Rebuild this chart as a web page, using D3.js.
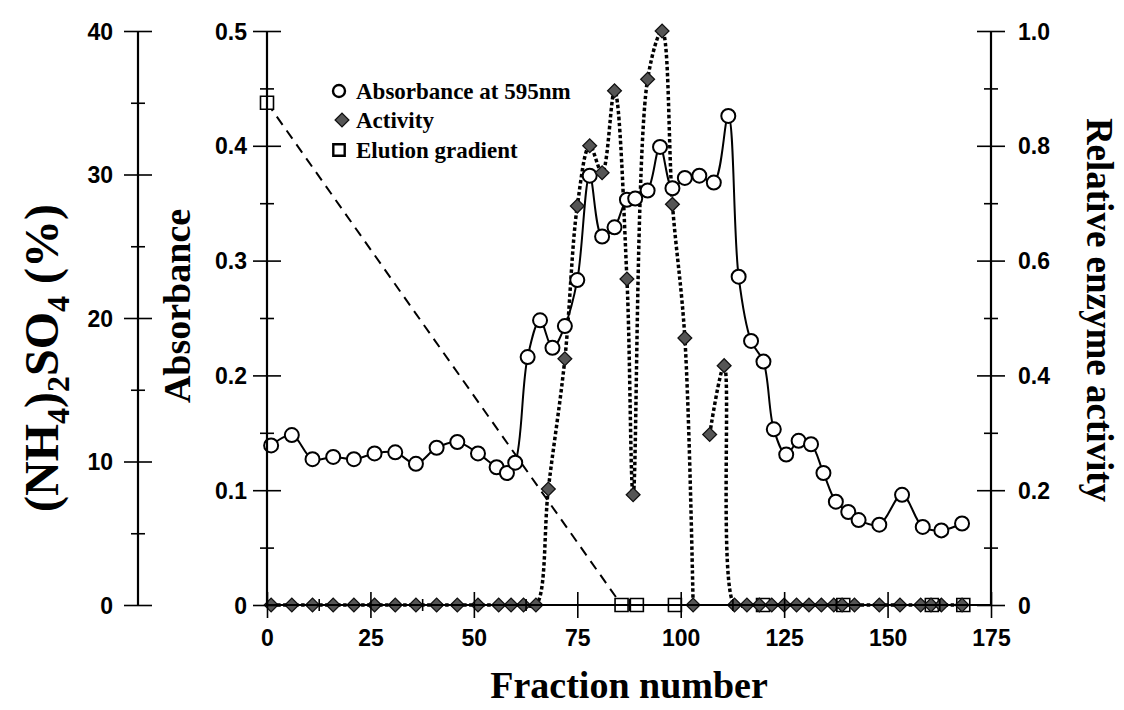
<!DOCTYPE html>
<html>
<head>
<meta charset="utf-8">
<script src="https://cdn.jsdelivr.net/npm/d3@7"></script>
<style>
  html, body { margin: 0; padding: 0; background: #fff; }
  svg { display: block; }
</style>
</head>
<body>
<svg id="chart" width="1124" height="710"></svg>
<script>
// Absorbance at 595 nm per fraction
const absFraction = [1, 6, 11, 16, 21, 26, 31, 36, 41, 46, 51, 55.5, 58, 60, 63, 66, 69, 72, 75, 78, 81, 84, 87, 89, 92, 95, 98, 101, 104.5, 108, 111.5, 114, 117, 120, 122.5, 125.5, 128.5, 131.5, 134.5, 137.5, 140.5, 143, 148, 153.5, 158.5, 163, 168];
const absValue = [0.139, 0.148, 0.127, 0.129, 0.127, 0.132, 0.133, 0.123, 0.137, 0.142, 0.132, 0.120, 0.115, 0.124, 0.216, 0.248, 0.224, 0.243, 0.283, 0.374, 0.321, 0.329, 0.353, 0.354, 0.361, 0.399, 0.363, 0.372, 0.374, 0.368, 0.426, 0.286, 0.230, 0.212, 0.153, 0.131, 0.143, 0.140, 0.115, 0.090, 0.081, 0.074, 0.070, 0.096, 0.068, 0.065, 0.071];

// Relative enzyme activity per fraction (null = break in the curve)
const actFraction = [1, 6, 11, 16, 21, 26, 31, 36, 41, 46, 51, 56, 59, 62, 65, 68, 72, 75, 78, 81, 84, 87, 88.5, 92, 95.5, 98, 101, 103, null, 107, 110.5, 113, 116, 119, 122, 125, 128, 131, 134, 137, 139, 142, 148, 153, 158, 160.5, 163, 168];
const actValue = [0, 0, 0, 0, 0, 0, 0, 0, 0, 0, 0, 0, 0, 0, 0, 0.202, 0.429, 0.695, 0.800, 0.753, 0.896, 0.568, 0.192, 0.916, 1.0, 0.698, 0.465, 0, null, 0.297, 0.417, 0, 0, 0, 0, 0, 0, 0, 0, 0, 0, 0, 0, 0, 0, 0, 0, 0];

// (NH4)2SO4 elution gradient, %
const gradFraction = [0, 85.7, 89.4, 98.6, 119.9, 139.3, 160.7, 168.3];
const gradValue = [35, 0, 0, 0, 0, 0, 0, 0];

// Axis ticks
const xMajor = [0, 25, 50, 75, 100, 125, 150, 175];
const xMinor = [12.5, 37.5, 62.5, 87.5, 112.5, 137.5, 162.5];
const absMajor = [0, 0.1, 0.2, 0.3, 0.4, 0.5];
const absMinor = [0.05, 0.15, 0.25, 0.35, 0.45];
const actMajor = [0, 0.2, 0.4, 0.6, 0.8, 1.0];
const actMinor = [0.1, 0.3, 0.5, 0.7, 0.9];
const saltMajor = [0, 10, 20, 30, 40];
const saltMinor = [5, 15, 25, 35];

const legendLabels = ["Absorbance at 595nm", "Activity", "Elution gradient"];

const svg = d3.select("#chart");
const SANS = "'Liberation Sans', Arial, sans-serif";
const SERIF = "'Liberation Serif', 'Times New Roman', serif";

const x0 = 267, x1 = 991, yTop = 31, yBot = 605, saltX = 138;
const x = d3.scaleLinear().domain([0, 175]).range([x0, x1]);
const yAbs = d3.scaleLinear().domain([0, 0.5]).range([yBot, yTop]);
const yAct = d3.scaleLinear().domain([0, 1]).range([yBot, yTop]);
const ySalt = d3.scaleLinear().domain([0, 40]).range([yBot, yTop]);

const absData = absFraction.map((f, i) => ({ f, v: absValue[i] }));
const actData = actFraction.map((f, i) => ({ f, v: actValue[i] }));
const gradData = gradFraction.map((f, i) => ({ f, v: gradValue[i] }));

const plot = svg.append("g");

// gradient line (dashed)
plot.append("path")
  .datum(gradData)
  .attr("d", d3.line().x(d => x(d.f)).y(d => ySalt(d.v)))
  .attr("fill", "none").attr("stroke", "#000").attr("stroke-width", 2)
  .attr("stroke-dasharray", "10,7");

// absorbance line (solid, lightly smoothed)
plot.append("path")
  .datum(absData)
  .attr("d", d3.line().curve(d3.curveCatmullRom.alpha(0.5)).x(d => x(d.f)).y(d => yAbs(d.v)))
  .attr("fill", "none").attr("stroke", "#000").attr("stroke-width", 2);

// activity line (dotted, smoothed)
plot.append("path")
  .datum(actData)
  .attr("d", d3.line().defined(d => d.f !== null && d.v !== null)
    .curve(d3.curveCatmullRom.alpha(0.5)).x(d => x(d.f)).y(d => yAct(d.v)))
  .attr("fill", "none").attr("stroke", "#000").attr("stroke-width", 3.5)
  .attr("stroke-dasharray", "3.5,2.5");

const squareSym = d3.symbol().type(d3.symbolSquare).size(169);
const diamondSym = d3.symbol().type(d3.symbolSquare).size(95);

// gradient markers
plot.selectAll(".sq").data(gradData).join("path")
  .attr("transform", d => `translate(${x(d.f)},${ySalt(d.v)})`)
  .attr("d", squareSym)
  .attr("fill", "#fff").attr("stroke", "#000").attr("stroke-width", 1.6);

// absorbance markers
plot.selectAll(".ci").data(absData).join("circle")
  .attr("cx", d => x(d.f)).attr("cy", d => yAbs(d.v)).attr("r", 7)
  .attr("fill", "#fff").attr("stroke", "#000").attr("stroke-width", 2);

// activity markers
plot.selectAll(".di").data(actData.filter(d => d.f !== null)).join("path")
  .attr("transform", d => `translate(${x(d.f)},${yAct(d.v)}) rotate(45)`)
  .attr("d", diamondSym)
  .attr("fill", "#555").attr("stroke", "#111").attr("stroke-width", 1.3);

// ---- axes ----
function crossTicks(g, vertical, half) {
  g.selectAll(".tick line")
    .attr(vertical ? "x1" : "y1", -half)
    .attr(vertical ? "x2" : "y2", half)
    .attr("stroke", "#000").attr("stroke-width", 1.6);
  g.select(".domain").remove();
}
function fmtDec(d) { return d === 0 ? "0" : d3.format(".1f")(d); }

function vAxis(scale, xPos, major, minor, fmt, side, labelOffset) {
  const gMin = svg.append("g").attr("transform", `translate(${xPos},0)`)
    .call(d3.axisLeft(scale).tickValues(minor).tickFormat(""));
  crossTicks(gMin, true, 7);
  const gMaj = svg.append("g").attr("transform", `translate(${xPos},0)`)
    .call(d3.axisLeft(scale).tickValues(major).tickFormat(fmt));
  crossTicks(gMaj, true, 14);
  gMaj.selectAll(".tick text")
    .attr("x", labelOffset).attr("dy", "0.35em")
    .attr("text-anchor", side === "left" ? "end" : "start")
    .attr("font-family", SANS).attr("font-weight", "bold").attr("font-size", 23)
    .attr("fill", "#000");
  svg.append("line").attr("x1", xPos).attr("x2", xPos).attr("y1", yTop).attr("y2", yBot)
    .attr("stroke", "#000").attr("stroke-width", 2.2);
}

vAxis(ySalt, saltX, saltMajor, saltMinor, d3.format("d"), "left", -25);
vAxis(yAbs, x0, absMajor, absMinor, fmtDec, "left", -20);
vAxis(yAct, x1, actMajor, actMinor, fmtDec, "right", 27);

// bottom axis
const gxMin = svg.append("g").attr("transform", `translate(0,${yBot})`)
  .call(d3.axisBottom(x).tickValues(xMinor).tickFormat(""));
crossTicks(gxMin, false, 6);
const gxMaj = svg.append("g").attr("transform", `translate(0,${yBot})`)
  .call(d3.axisBottom(x).tickValues(xMajor).tickFormat(d3.format("d")));
crossTicks(gxMaj, false, 13);
gxMaj.selectAll(".tick text")
  .attr("y", 25).attr("dy", "0.71em")
  .attr("font-family", SANS).attr("font-weight", "bold").attr("font-size", 23)
  .attr("fill", "#000");
svg.append("line").attr("x1", x0).attr("x2", x1).attr("y1", yBot).attr("y2", yBot)
  .attr("stroke", "#000").attr("stroke-width", 2.2);

// ---- titles ----
svg.append("text")
  .attr("transform", `translate(${(x0 + x1) / 2},698)`)
  .attr("text-anchor", "middle")
  .attr("font-family", SERIF).attr("font-weight", "bold").attr("font-size", 38)
  .text("Fraction number");

svg.append("text")
  .attr("transform", `translate(190,306) rotate(-90)`)
  .attr("text-anchor", "middle")
  .attr("font-family", SERIF).attr("font-weight", "bold").attr("font-size", 38)
  .text("Absorbance");

svg.append("text")
  .attr("transform", `translate(1087,310) rotate(90)`)
  .attr("text-anchor", "middle")
  .attr("font-family", SERIF).attr("font-weight", "bold").attr("font-size", 37)
  .text("Relative enzyme activity");

const salt = svg.append("text")
  .attr("transform", `translate(58,358) rotate(-90)`)
  .attr("text-anchor", "middle")
  .attr("font-family", SERIF).attr("font-weight", "bold").attr("font-size", 48);
[["(NH", 0], ["4", 1], [")", 0], ["2", 1], ["SO", 0], ["4", 1], [" (%)", 0]].forEach(([t, sub], i, arr) => {
  const ts = salt.append("tspan").text(t);
  const prevSub = i > 0 && arr[i - 1][1];
  if (sub) ts.attr("font-size", 32).attr("dy", 11);
  else ts.attr("dy", prevSub ? -11 : 0);
});

// ---- legend ----
const lg = svg.append("g");
const rows = [yTop + 60, yTop + 89, yTop + 119];
lg.append("circle").attr("cx", 339).attr("cy", rows[0]).attr("r", 6)
  .attr("fill", "#fff").attr("stroke", "#000").attr("stroke-width", 2.4);
lg.append("path").attr("transform", `translate(342,${rows[1]}) rotate(45)`)
  .attr("d", diamondSym).attr("fill", "#555").attr("stroke", "#111").attr("stroke-width", 1.3);
lg.append("path").attr("transform", `translate(339,${rows[2]})`)
  .attr("d", d3.symbol().type(d3.symbolSquare).size(130))
  .attr("fill", "#fff").attr("stroke", "#000").attr("stroke-width", 2.4);
lg.selectAll("text").data(legendLabels).join("text")
  .attr("x", 356).attr("y", (d, i) => rows[i]).attr("dy", "0.33em")
  .attr("font-family", SERIF).attr("font-weight", "bold").attr("font-size", 23)
  .text(d => d);
</script>
</body>
</html>
